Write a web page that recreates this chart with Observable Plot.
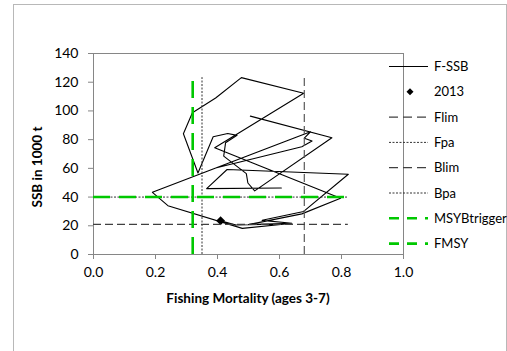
<!DOCTYPE html>
<html><head><meta charset="utf-8">
<script src="https://cdn.jsdelivr.net/npm/d3@7"></script>
<script src="https://cdn.jsdelivr.net/npm/@observablehq/plot@0.6"></script>
<style>
body{margin:0;background:#fff;font-family:Lato,"Open Sans",sans-serif}
#wrap{position:relative;width:507px;height:351px;overflow:hidden;background:#fff}
#border{position:absolute;left:13px;top:4px;width:492px;height:400px;border:1px solid #b8b8b8}
#chart{position:absolute;left:0;top:0}
.t{position:absolute;font-weight:bold;font-size:13.5px;white-space:nowrap;color:#000}
#xl{left:248px;top:298px;transform:translate(-50%,-50%)}
#yl{left:37px;top:167px;transform:translate(-50%,-50%) rotate(-90deg)}
#legend{position:absolute;left:0;top:0}
</style></head><body>
<div id="wrap">
<div id="border"></div>
<div id="chart"></div>
<div class="t" id="xl">Fishing Mortality (ages 3-7)</div>
<div class="t" id="yl">SSB in 1000 t</div>
<svg id="legend" width="507" height="351"></svg>
</div>
<script>
// F-SSB trajectory (fishing mortality, SSB in 1000 t); null = break in the drawn path
const fishingMortality = [0.506,0.769,0.520,0.498,0.493,0.420,0.426,0.463,0.433,0.386,0.337,0.290,0.319,0.394,0.477,0.678,0.391,0.797,0.672,0.500,0.640,0.544,0.678,0.822,0.431,0.365,0.606,
  null,
  0.394,0.672,0.705,0.680,0.700,0.190,0.240,0.480,0.620,0.460,0.410];
const ssbValues = [96.4,81.3,44.3,49.8,56.3,68.5,77.8,83.0,84.3,82.0,56.8,84.1,98.7,109.0,123.2,112.3,74.3,39.1,28.3,20.8,21.8,23.8,30.0,55.9,59.2,45.9,46.3,
  null,
  60.3,75.0,79.0,81.0,85.5,43.3,34.0,18.2,21.2,20.5,23.5];
const highlightLabel = "2013";
const Flim = 0.68, Fpa = 0.35, FMSY = 0.32;
const Blim = 21, Bpa = 40, MSYBtrigger = 40;
const xTicks = [0, 0.2, 0.4, 0.6, 0.8, 1.0];
const yTicks = [0, 20, 40, 60, 80, 100, 120, 140];
const legendLabels = ["F-SSB", "2013", "Flim", "Fpa", "Blim", "Bpa", "MSYBtrigger", "FMSY"];

const data = fishingMortality.map((f, i) => ({F: f, SSB: ssbValues[i]}));
const pts = data.filter(d => d.F != null);
const highlight = [pts[pts.length - 1]];
const maxF = d3.max(pts, d => d.F);
const maxSSB = d3.max(pts, d => d.SSB);

const green = "#00c800";
const chart = Plot.plot({
  width: 507, height: 351,
  marginLeft: 93, marginRight: 104, marginTop: 53, marginBottom: 97,
  style: {fontFamily: "Lato, 'Open Sans', sans-serif", fontSize: "14px", color: "#000", background: "transparent"},
  x: {domain: [0, 1]},
  y: {domain: [0, 140]},
  marks: [
    Plot.frame({stroke: "#868686"}),
    Plot.axisX({ticks: xTicks, tickFormat: d3.format(".1f"), tickSize: 5, tickPadding: 8, stroke: "#868686", label: null}),
    Plot.axisY({ticks: yTicks, tickSize: 5, tickPadding: 10, stroke: "#868686", label: null}),
    Plot.line(data, {x: "F", y: "SSB", stroke: "#000", strokeWidth: 1.1}),
    Plot.dot(highlight, {x: "F", y: "SSB", symbol: "diamond2", r: 4, fill: "#000"}),
    Plot.ruleX([Flim], {y1: () => 0, y2: () => maxSSB, stroke: "#595959", strokeWidth: 1.2, strokeDasharray: "8,4"}),
    Plot.ruleX([Fpa], {y1: () => 0, y2: () => maxSSB, stroke: "#333", strokeWidth: 1, strokeDasharray: "2,1.5"}),
    Plot.ruleY([Blim], {x1: () => 0, x2: () => maxF, stroke: "#404040", strokeWidth: 1.1, strokeDasharray: "8,4"}),
    Plot.ruleY([Bpa], {x1: () => 0, x2: () => maxF, stroke: "#333", strokeWidth: 1, strokeDasharray: "2,1.5"}),
    Plot.ruleY([MSYBtrigger], {x1: () => 0, x2: () => maxF, stroke: green, strokeWidth: 2.6, strokeDasharray: "17,9"}),
    Plot.ruleX([FMSY], {y1: () => 0, y2: () => maxSSB, stroke: green, strokeWidth: 2.6, strokeDasharray: "17,9"})
  ]
});
document.getElementById("chart").appendChild(chart);

// legend
const lg = d3.select("#legend");
const styles = [
  {stroke: "#000", w: 1.1, dash: null},
  {diamond: true},
  {stroke: "#404040", w: 1.2, dash: "9,5"},
  {stroke: "#333", w: 1, dash: "2,1.5"},
  {stroke: "#404040", w: 1.2, dash: "9,5"},
  {stroke: "#333", w: 1, dash: "2,1.5"},
  {stroke: green, w: 2.6, dash: "10,8"},
  {stroke: green, w: 2.6, dash: "10,8"}
];
legendLabels.forEach((lab, i) => {
  const y = 66.5 + i * 25.3;
  const s = styles[i];
  if (s.diamond) {
    lg.append("path").attr("d", `M410,${y-3.5}L413.5,${y}L410,${y+3.5}L406.5,${y}Z`).attr("fill", "#000");
  } else {
    const l = lg.append("line").attr("x1", 389).attr("x2", 428).attr("y1", y).attr("y2", y)
      .attr("stroke", s.stroke).attr("stroke-width", s.w);
    if (s.dash) l.attr("stroke-dasharray", s.dash);
  }
  lg.append("text").attr("x", 434).attr("y", y).attr("dy", "0.35em")
    .attr("font-family", "Lato, 'Open Sans', sans-serif").attr("font-size", 13).attr("fill", "#000").text(lab);
});
</script>
</body></html>
